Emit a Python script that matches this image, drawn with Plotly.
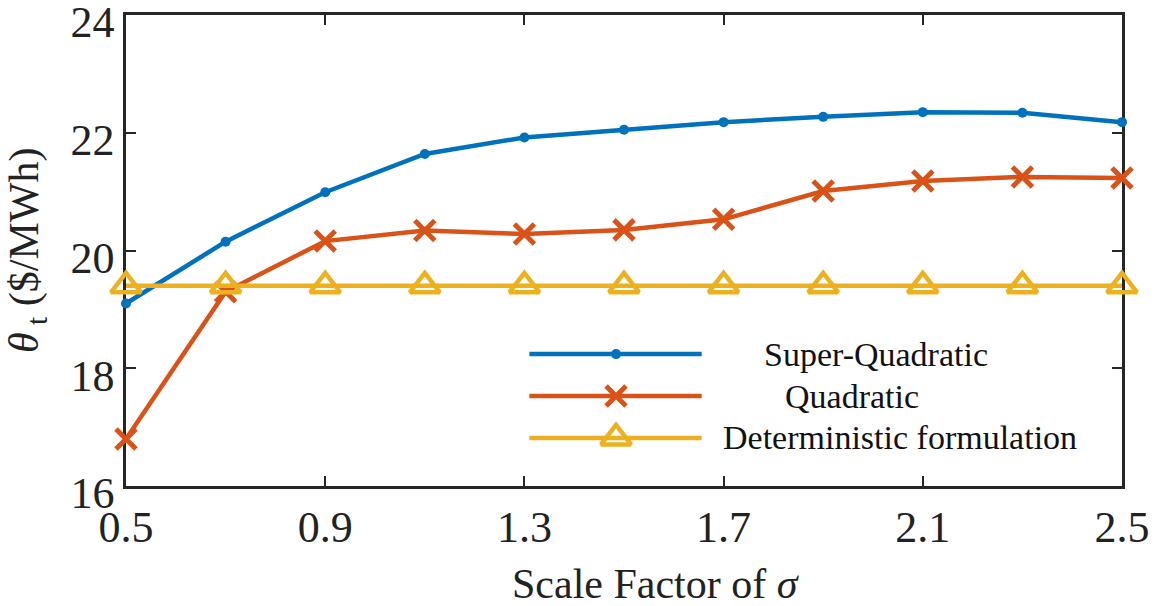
import plotly.graph_objects as go

# Scale factor of sigma
scale_factor = [0.5, 0.7, 0.9, 1.1, 1.3, 1.5, 1.7, 1.9, 2.1, 2.3, 2.5]

# Price theta_t ($/MWh) for each formulation
super_quadratic = [19.10, 20.15, 20.99, 21.64, 21.92, 22.05, 22.18, 22.27, 22.35, 22.34, 22.18]
quadratic = [16.80, 19.30, 20.16, 20.34, 20.28, 20.35, 20.53, 21.01, 21.18, 21.25, 21.23]
deterministic = [19.40, 19.40, 19.40, 19.40, 19.40, 19.40, 19.40, 19.40, 19.40, 19.40, 19.40]

series_names = ["Super-Quadratic", "Quadratic", "Deterministic formulation"]

x_ticks = [0.5, 0.9, 1.3, 1.7, 2.1, 2.5]
y_ticks = [16, 18, 20, 22, 24]

BLUE = "#0072BD"
ORANGE = "#D95319"
YELLOW = "#EDB120"
AXIS = "#262626"
FONT = "Liberation Serif, Times New Roman, serif"

markers = [
    dict(symbol="circle", size=10, color=BLUE),
    dict(symbol="x-thin", size=20, color=ORANGE, line=dict(color=ORANGE, width=5)),
    dict(symbol="triangle-up-open", size=26, color=YELLOW, line=dict(color=YELLOW, width=4.5)),
]
colors = [BLUE, ORANGE, YELLOW]

fig = go.Figure()
for ys, name, mk, col in zip([super_quadratic, quadratic, deterministic], series_names, markers, colors):
    fig.add_trace(go.Scatter(
        x=scale_factor, y=ys, name=name, mode="lines+markers",
        line=dict(color=col, width=4.5), marker=mk, cliponaxis=False,
        showlegend=False,
    ))

# Hand-drawn legend on a separate hidden subplot spanning the plot area
leg_x0, leg_x1, leg_xm = 0.405, 0.578, 0.492
leg_rows = [0.280, 0.191, 0.102]
leg_text_x = [0.639, 0.660, 0.597]
for name, mk, col, ry, tx in zip(series_names, markers, colors, leg_rows, leg_text_x):
    fig.add_trace(go.Scatter(
        x=[leg_x0, leg_x1], y=[ry, ry], mode="lines", xaxis="x2", yaxis="y2",
        line=dict(color=col, width=4.5), showlegend=False, hoverinfo="skip",
    ))
    fig.add_trace(go.Scatter(
        x=[leg_xm], y=[ry], mode="markers", xaxis="x2", yaxis="y2",
        marker=mk, showlegend=False, hoverinfo="skip", cliponaxis=False,
    ))
    fig.add_annotation(
        x=tx, y=ry, xref="x2", yref="y2", text=name, showarrow=False,
        xanchor="left", yanchor="middle",
        font=dict(family=FONT, size=34, color="#111111"),
    )

axis_common = dict(
    showline=True, linecolor=AXIS, linewidth=2.5, mirror="ticks",
    ticks="inside", ticklen=10, tickwidth=2, tickcolor=AXIS,
    showgrid=False, zeroline=False, layer="below traces",
    ticklabeloverflow="allow", automargin=False,
    tickfont=dict(family=FONT, size=44, color="#222222"),
)

fig.update_layout(
    width=1165, height=606,
    margin=dict(l=126, r=43, t=15, b=120, autoexpand=False),
    paper_bgcolor="white", plot_bgcolor="rgba(0,0,0,0)",
    showlegend=False,
    xaxis=dict(range=[0.5, 2.5], tickvals=x_ticks, ticktext=[f"{v:.1f}" for v in x_ticks],
               ticklabelstandoff=0, **axis_common),
    yaxis=dict(range=[16, 24], tickvals=y_ticks, ticktext=[str(v) for v in y_ticks],
               ticklabelstandoff=0, ticklabelshift=7, **axis_common),
    xaxis2=dict(range=[0, 1], domain=[0, 1], anchor="y2", visible=False, fixedrange=True),
    yaxis2=dict(range=[0, 1], domain=[0, 1], anchor="x2", visible=False, fixedrange=True),
)

fig.add_annotation(
    x=0.532, y=-0.208, xref="paper", yref="paper", showarrow=False,
    text="Scale Factor of <i>σ</i>", xanchor="center", yanchor="middle",
    font=dict(family=FONT, size=42, color="#222222"),
)
fig.add_annotation(
    x=-0.100, y=0.50, xref="paper", yref="paper", showarrow=False, textangle=-90,
    text="<i>θ</i><sub> t</sub> ($/MWh)", xanchor="center", yanchor="middle",
    font=dict(family=FONT, size=42, color="#222222"),
)

fig.write_html("out.html")
